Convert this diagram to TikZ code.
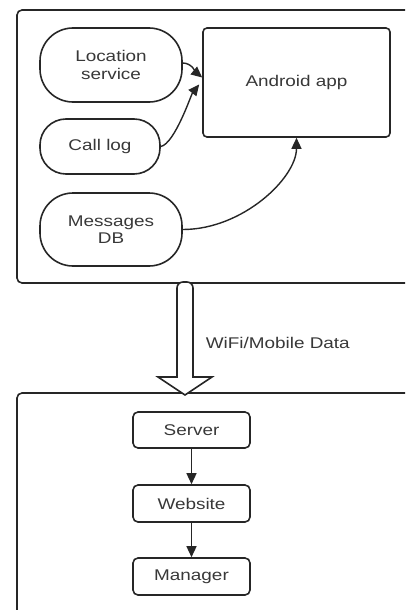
\documentclass[tikz,border=0pt]{standalone}
\usepackage{fontspec}
\setmainfont{Liberation Sans}[FakeStretch=1.22]
\usetikzlibrary{arrows.meta}
\begin{document}
\begin{tikzpicture}[x=1pt,y=-1pt,
  line width=1.6pt, draw=black!85,
  every node/.style={font=\fontsize{15.5}{17.5}\selectfont, text=black!78, align=center, inner sep=0pt},
  pill/.style={draw, rounded corners=33pt, minimum width=142pt, minimum height=74pt},
  appbox/.style={draw, rounded corners=4pt, minimum width=187pt, minimum height=109pt},
  srvbox/.style={draw, rounded corners=5pt, minimum width=117pt, minimum height=36pt},
  conn/.style={-{Triangle[length=11pt,width=10pt]}, line width=1.4pt}]
\useasboundingbox (0,0) rectangle (405,610);
\clip (0,0) rectangle (405,610);
% outer frames
\draw[rounded corners=5pt] (17,10) rectangle (425,283);
\draw[rounded corners=5pt] (17,393) rectangle (425,630);
% hollow arrow
\draw[fill=white, rounded corners=0pt] (177,290) [rounded corners=6pt] -- (177,282) -- (193,282) [rounded corners=0pt] -- (193,377) -- (212,377) -- (185,395) -- (158,377) -- (177,377) -- cycle;
\node[anchor=west] (wifi) at (205,343) {WiFi/Mobile Data};
% top nodes
\node[pill] (loc) at (111,65) {Location\\service};
\node[pill, minimum width=120pt, minimum height=55pt, rounded corners=26pt] (call) at (100,146.5) {Call log};
\node[pill, minimum height=73pt] (msg) at (111,229.5) {Messages\\DB};
\node[appbox] (app) at (296.5,82.5) {Android app};
% connectors
\draw[conn] ([yshift=2pt]loc.east) .. controls +(9,0) and +(-6,-5) .. ([yshift=5pt]app.west);
\draw[conn] (call.east) .. controls +(14,-3) and +(-8,10) .. ([xshift=-3pt,yshift=-2pt]app.west);
\draw[conn] (msg.east) .. controls +(60,0) and +(0,40) .. (app.south);
% bottom nodes
\node[srvbox] (srv) at (191.5,430) {Server};
\node[srvbox, minimum height=37pt] (web) at (191.5,503.5) {Website};
\node[srvbox, minimum height=37pt] (mgr) at (191.5,576.5) {Manager};
\draw[conn] (srv) -- (web);
\draw[conn] (web) -- (mgr);
\end{tikzpicture}
\end{document}
